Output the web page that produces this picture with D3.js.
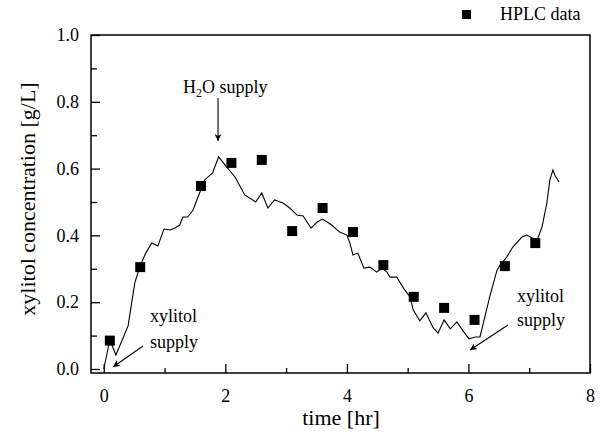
<!DOCTYPE html>
<html><head><meta charset="utf-8">
<script src="https://cdn.jsdelivr.net/npm/d3@7"></script>
<style>
body{margin:0;background:#fff;}
svg text{font-family:'Liberation Serif','Times New Roman',Times,'DejaVu Serif',serif !important;fill:#000;}
</style></head><body>
<svg id="c" width="601" height="432" style="font-family:'Liberation Serif',serif"></svg>
<script>
// HPLC measured data
const hplcTime = [0.1, 0.6, 1.6, 2.1, 2.6, 3.1, 3.6, 4.1, 4.6, 5.1, 5.6, 6.1, 6.6, 7.1];
const hplcConc = [0.085, 0.305, 0.548, 0.617, 0.626, 0.413, 0.482, 0.41, 0.311, 0.216, 0.183, 0.147, 0.308, 0.377];
// Continuous (sensor/model) trace
const lineTime = [0.0, 0.10, 0.20, 0.40, 0.51, 0.59, 0.69, 0.79, 0.89, 0.99, 1.09, 1.17, 1.25, 1.30, 1.38, 1.47, 1.55, 1.66, 1.79, 1.89,
  2.02, 2.16, 2.32, 2.50, 2.60, 2.70, 2.81, 2.95, 3.06, 3.18, 3.28, 3.41, 3.51, 3.60, 3.75, 3.88, 4.00, 4.05, 4.10, 4.18,
  4.28, 4.38, 4.49, 4.58, 4.66, 4.71, 4.82, 4.95, 5.04, 5.09, 5.20, 5.30, 5.42, 5.50, 5.60, 5.70, 5.81, 5.91, 6.01, 6.11,
  6.19, 6.27, 6.35, 6.47, 6.52, 6.63, 6.73, 6.88, 6.96, 7.05, 7.13, 7.21, 7.29, 7.34, 7.39, 7.42, 7.49];
const lineConc = [0.0, 0.087, 0.042, 0.129, 0.257, 0.305, 0.347, 0.377, 0.368, 0.419, 0.416, 0.422, 0.431, 0.455, 0.455, 0.476, 0.515, 0.566, 0.587, 0.635,
  0.605, 0.575, 0.521, 0.500, 0.527, 0.482, 0.506, 0.497, 0.482, 0.461, 0.458, 0.422, 0.440, 0.449, 0.431, 0.410, 0.401, 0.377, 0.341, 0.347,
  0.302, 0.305, 0.290, 0.302, 0.290, 0.275, 0.275, 0.237, 0.216, 0.177, 0.144, 0.168, 0.123, 0.108, 0.147, 0.120, 0.141, 0.114, 0.090, 0.096,
  0.096, 0.156, 0.216, 0.296, 0.311, 0.335, 0.365, 0.395, 0.401, 0.392, 0.386, 0.425, 0.497, 0.566, 0.596, 0.581, 0.560];
const xTicks = [0, 2, 4, 6, 8];
const xMinor = [1, 3, 5, 7];
const yTicks = [0.0, 0.2, 0.4, 0.6, 0.8, 1.0];
const yMinor = [0.1, 0.3, 0.5, 0.7, 0.9];
const xTitle = "time [hr]";
const yTitle = "xylitol concentration [g/L]";
const legendLabel = "HPLC data";

const FONT = "'Liberation Serif','Times New Roman',Times,'DejaVu Serif',serif";
const svg = d3.select("#c");
const L = 91, R = 590, T = 35, B = 373;
const x = d3.scaleLinear().domain([-0.21, 8]).range([L, R]);
const y = d3.scaleLinear().domain([-0.012, 1.0]).range([B, T]);

// frame
svg.append("rect").attr("x", L).attr("y", T).attr("width", R - L).attr("height", B - T)
  .attr("fill", "none").attr("stroke", "#000").attr("stroke-width", 1.5);

function styleAxis(g) {
  g.attr("font-family", FONT);
  g.select(".domain").remove();
  g.selectAll("line").attr("stroke", "#000").attr("stroke-width", 1.3);
  g.selectAll("text").attr("font-size", 18).style("font-family", FONT);
}

// x axis
svg.append("g").attr("transform", `translate(0,${B})`)
  .call(d3.axisBottom(x).tickValues(xTicks).tickSize(-9).tickPadding(16).tickFormat(d3.format("d")))
  .call(styleAxis);
svg.append("g").attr("transform", `translate(0,${B})`)
  .call(d3.axisBottom(x).tickValues(xMinor).tickSize(-5).tickFormat(""))
  .call(styleAxis);

// y axis
svg.append("g").attr("transform", `translate(${L},0)`)
  .call(d3.axisLeft(y).tickValues(yTicks).tickSize(-9).tickPadding(12).tickFormat(d3.format(".1f")))
  .call(styleAxis);
svg.append("g").attr("transform", `translate(${L},0)`)
  .call(d3.axisLeft(y).tickValues(yMinor).tickSize(-6).tickFormat(""))
  .call(styleAxis);

function txt(xp, yp, size, s, anchor) {
  return svg.append("text").attr("x", xp).attr("y", yp).attr("font-size", size)
    .attr("text-anchor", anchor || "start").style("font-family", FONT).text(s);
}

// titles
txt(341, 425, 22, xTitle, "middle");
svg.append("text").attr("transform", "translate(35,199) rotate(-90)").attr("text-anchor", "middle")
  .attr("font-size", 22).style("font-family", FONT).text(yTitle);

// line
const lineData = lineTime.map((t, i) => [t, lineConc[i]]);
svg.append("path").datum(lineData)
  .attr("d", d3.line().x(d => x(d[0])).y(d => y(d[1])))
  .attr("fill", "none").attr("stroke", "#000").attr("stroke-width", 1.1);

// HPLC squares
const s = 10;
svg.append("g").selectAll("rect").data(hplcTime.map((t, i) => [t, hplcConc[i]])).join("rect")
  .attr("x", d => x(d[0]) - s / 2).attr("y", d => y(d[1]) - s / 2)
  .attr("width", s).attr("height", s).attr("fill", "#000");

// legend
svg.append("rect").attr("x", 462).attr("y", 10).attr("width", 9).attr("height", 9).attr("fill", "#000");
txt(500, 20, 18, legendLabel);

// arrow marker
svg.append("defs").append("marker").attr("id", "ah")
  .attr("viewBox", "0 0 10 10").attr("refX", 10).attr("refY", 5)
  .attr("markerWidth", 7).attr("markerHeight", 7).attr("markerUnits", "userSpaceOnUse")
  .attr("orient", "auto")
  .append("path").attr("d", "M0,0L10,5L0,10L3,5Z").attr("fill", "#000");

function arrow(x1, y1, x2, y2) {
  svg.append("line").attr("x1", x1).attr("y1", y1).attr("x2", x2).attr("y2", y2)
    .attr("stroke", "#000").attr("stroke-width", 1.1).attr("marker-end", "url(#ah)");
}

// H2O supply annotation
const h2o = svg.append("text").attr("x", 183).attr("y", 93).attr("font-size", 18).style("font-family", FONT);
h2o.append("tspan").text("H");
h2o.append("tspan").attr("font-size", 12).attr("dy", 4).text("2");
h2o.append("tspan").attr("dy", -4).text("O supply");
arrow(x(1.88), 98, x(1.88), 141);

// xylitol supply annotations
txt(150, 322, 18, "xylitol");
txt(150, 348, 18, "supply");
arrow(143, 346, 113, 367);

txt(517, 302, 18, "xylitol");
txt(517, 326, 18, "supply");
arrow(508, 325, 470, 350);
</script>
</body></html>
